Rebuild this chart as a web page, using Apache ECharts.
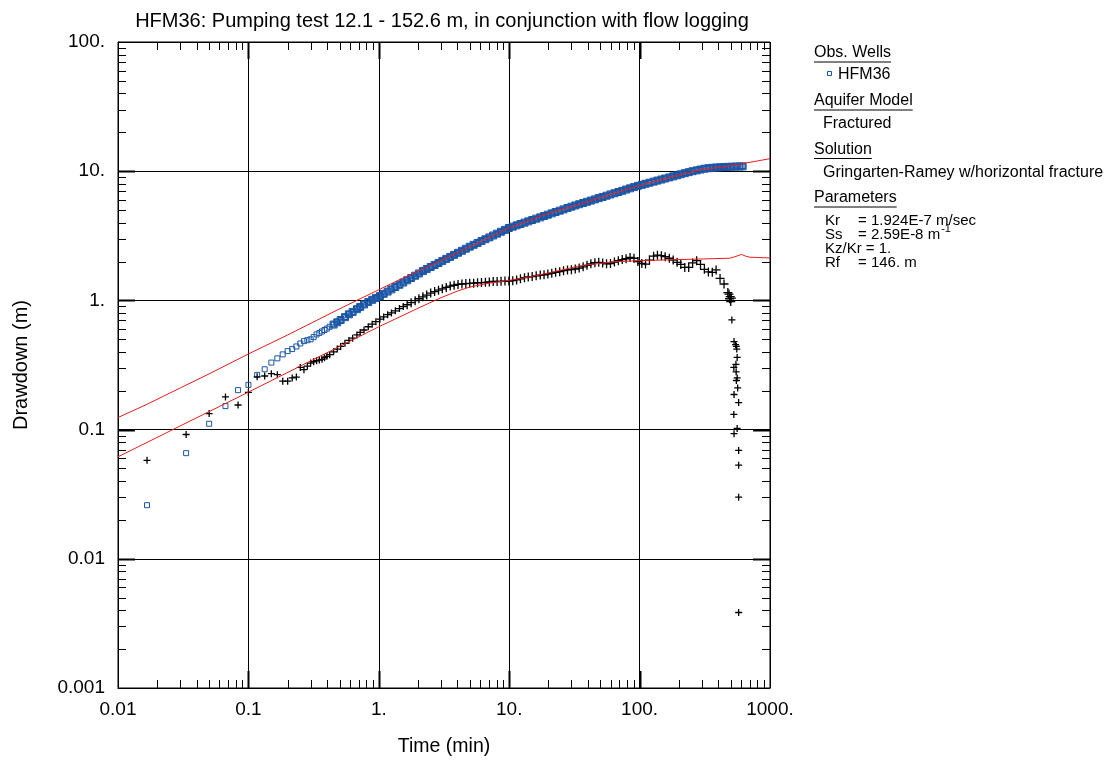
<!DOCTYPE html>
<html>
<head>
<meta charset="utf-8">
<script src="https://cdn.jsdelivr.net/npm/echarts@6/dist/echarts.min.js"></script>
<style>
html,body{margin:0;padding:0;background:#fff;}
#chart{width:1105px;height:762px;}
</style>
</head>
<body>
<div id="chart"></div>
<script>
// ---------- data ----------
const titleText = 'HFM36: Pumping test 12.1 - 152.6 m, in conjunction with flow logging';
const xTickLabels = ['0.01', '0.1', '1.', '10.', '100.', '1000.'];
const yTickLabels = ['0.001', '0.01', '0.1', '1.', '10.', '100.'];
const xDecades = [0.01, 0.1, 1, 10, 100];
const yDecades = [0.001, 0.01, 0.1, 1, 10];
const minorMultipliers = [2, 3, 4, 5, 6, 7, 8, 9];

// elapsed time (min)
const times = [
  0.0167, 0.0333, 0.05, 0.0667, 0.0833, 0.1, 0.1167, 0.1333, 0.15, 0.1667, 0.1833, 0.2,
  0.2167, 0.2333, 0.25, 0.2667, 0.2833, 0.3, 0.3167, 0.3333, 0.35, 0.3667, 0.3833, 0.4,
  0.42, 0.45, 0.48, 0.51, 0.55, 0.59, 0.63, 0.68, 0.72, 0.77, 0.83, 0.89, 0.95,
  1.02, 1.09, 1.17, 1.25, 1.34, 1.44, 1.54, 1.65, 1.77, 1.9, 2.03,
  2.18, 2.33, 2.5, 2.68, 2.87, 3.07, 3.29, 3.53, 3.78, 4.05, 4.34, 4.65, 4.98,
  5.34, 5.72, 6.13, 6.57, 7.04, 7.54, 8.08, 8.66, 9.28, 9.94,
  10.65, 11.4, 12.2, 13.1, 14.0, 15.0, 16.1, 17.3, 18.5, 19.8, 21.2, 22.7, 24.4, 26.1, 28.0, 30.0,
  32.1, 34.4, 36.9, 39.5, 42.3, 45.4, 48.6, 52.1, 55.8, 59.8, 64.1, 68.7, 73.6, 78.8, 84.5, 90.5, 97.0,
  104, 111, 119, 128, 137, 147, 157, 169, 181, 194, 207, 222, 238, 255, 274, 293, 314,
  337, 361, 386, 414, 444, 475, 509, 545, 585, 617
];
// HFM36 drawdown (m)
const drawdown = [
  0.026, 0.0657, 0.111, 0.152, 0.202, 0.222, 0.265, 0.293, 0.330, 0.356, 0.382, 0.405,
  0.42, 0.44, 0.464, 0.484, 0.492, 0.50, 0.52, 0.545, 0.56, 0.575, 0.59, 0.605,
  0.625, 0.65, 0.677, 0.705, 0.742, 0.78, 0.815, 0.855, 0.89, 0.93, 0.97, 1.01, 1.045,
  1.08, 1.124, 1.170, 1.218, 1.269, 1.321, 1.375, 1.432, 1.491, 1.552, 1.616,
  1.687, 1.748, 1.814, 1.880, 1.949, 2.021, 2.095, 2.172, 2.252, 2.335, 2.421, 2.510, 2.603,
  2.691, 2.783, 2.877, 2.974, 3.074, 3.179, 3.287, 3.399, 3.514, 3.634,
  3.721, 3.811, 3.903, 3.996, 4.091, 4.190, 4.290, 4.393, 4.498, 4.606, 4.716, 4.831, 4.946, 5.064, 5.187, 5.311,
  5.43, 5.55, 5.67, 5.80, 5.92, 6.05, 6.19, 6.32, 6.46, 6.61, 6.75, 6.90, 7.05, 7.21, 7.37, 7.53, 7.70,
  7.84, 7.99, 8.14, 8.30, 8.46, 8.62, 8.78, 8.95, 9.12, 9.29, 9.47, 9.65, 9.83, 10.0, 10.15, 10.3, 10.45,
  10.55, 10.62, 10.68, 10.73, 10.77, 10.8, 10.83, 10.86, 10.88, 10.9
];
// derivative data (black crosses), same times
const derivative = [
  0.0578, 0.0916, 0.133, 0.179, 0.155, 0.194, 0.256, 0.26, 0.271, 0.266, 0.237, 0.237,
  0.251, 0.255, 0.303, 0.291, 0.31, 0.327, 0.335, 0.341, 0.345, 0.35, 0.36, 0.369,
  0.38, 0.40, 0.42, 0.44, 0.465, 0.49, 0.51, 0.54, 0.565, 0.59, 0.625, 0.655, 0.685,
  0.715, 0.745, 0.775, 0.80, 0.83, 0.865, 0.895, 0.925, 0.96, 0.995, 1.03,
  1.065, 1.10, 1.14, 1.17, 1.20, 1.23, 1.26, 1.29, 1.31, 1.33, 1.34, 1.35, 1.355,
  1.36, 1.37, 1.375, 1.38, 1.39, 1.40, 1.40, 1.405, 1.41, 1.41,
  1.42, 1.44, 1.47, 1.50, 1.52, 1.53, 1.55, 1.57, 1.58, 1.60, 1.62, 1.65, 1.67, 1.70, 1.72, 1.73,
  1.75, 1.78, 1.82, 1.87, 1.92, 1.96, 1.97, 1.95, 1.92, 1.93, 1.98, 2.03, 2.07, 2.10, 2.15, 2.12, 2.0,
  1.93, 1.91, 2.05, 2.2, 2.24, 2.22, 2.18, 2.12, 2.05, 1.97, 1.9, 1.8, 1.8, 1.95, 2.03, 1.9, 1.74,
  1.66, 1.65, 1.72, 1.48, 1.34, 1.15, null, null, null, null
];
// late derivative points (time, value)
const derivTailTimes = [485, 490, 495, 500, 505, 510, 530, 545, 552, 556, 560, 548, 528, 550, 560, 552, 565, 530, 575, 528, 560, 530, 575, 575, 575, 575];
const derivTailValues = [1.12, 1.03, 1.07, 0.98, 1.04, 0.706, 0.48, 0.455, 0.44, 0.42, 0.362, 0.32, 0.303, 0.28, 0.251, 0.24, 0.21, 0.187, 0.162, 0.131, 0.102, 0.093, 0.069, 0.053, 0.030, 0.00384];

// type curve (Gringarten-Ramey) and its derivative
const modelTimes = [0.01, 0.0167, 0.03, 0.05, 0.1, 0.2, 0.5, 1, 1.6, 2, 3, 5, 10, 20, 30, 50, 100, 200, 300, 500, 617, 1000];
const modelValues = [0.124, 0.157, 0.21, 0.27, 0.385, 0.54, 0.86, 1.21, 1.52, 1.68, 2.04, 2.60, 3.64, 4.72, 5.31, 6.25, 7.76, 9.35, 10.3, 11.0, 11.45, 12.5];
const modelDerivTimes = [0.01, 0.1, 1, 2, 3, 4, 5, 7, 10, 14.4, 20, 34.7, 62.8, 100, 200, 490, 540, 605, 650, 700, 1000];
const modelDerivValues = [0.0616, 0.195, 0.625, 0.87, 1.05, 1.18, 1.27, 1.36, 1.43, 1.52, 1.63, 1.85, 1.99, 2.03, 2.07, 2.12, 2.18, 2.27, 2.2, 2.16, 2.13];

// ---------- chart ----------
const FONT = 'Liberation Sans, Arial, sans-serif';
const BLUE = '#1a56a5';
const zip = (a, b) => a.map((v, i) => [v, b[i]]).filter(p => p[1] != null);

const xMinor = [], yMinor = [];
xDecades.forEach(d => minorMultipliers.forEach(m => xMinor.push(m * d)));
yDecades.forEach(d => minorMultipliers.forEach(m => yMinor.push(m * d)));
const xMajor = xDecades.slice(1);
const yMajor = yDecades.slice(1);

function tickSeries(axis, values, len, width) {
  return {
    type: 'custom', silent: true, z: 6, clip: false, animation: false,
    data: values.map(v => axis === 'x' ? [v, 1] : [1, v]),
    renderItem: function (params, api) {
      const cs = params.coordSys;
      const p = api.coord([api.value(0), api.value(1)]);
      const style = { stroke: '#000', lineWidth: width };
      if (axis === 'x') {
        const x = Math.round(p[0]) + 0.5;
        return { type: 'group', children: [
          { type: 'line', shape: { x1: x, y1: cs.y + cs.height, x2: x, y2: cs.y + cs.height - len }, style: style },
          { type: 'line', shape: { x1: x, y1: cs.y, x2: x, y2: cs.y + len }, style: style }
        ]};
      } else {
        const y = Math.round(p[1]) + 0.5;
        return { type: 'group', children: [
          { type: 'line', shape: { x1: cs.x, y1: y, x2: cs.x + len, y2: y }, style: style },
          { type: 'line', shape: { x1: cs.x + cs.width, y1: y, x2: cs.x + cs.width - len, y2: y }, style: style }
        ]};
      }
    }
  };
}

function labelFor(list, base) {
  return function (v) {
    const i = Math.round(Math.log10(v) - Math.log10(base));
    return list[i] !== undefined ? list[i] : '';
  };
}

// legend panel with underlined headings
const measureCanvas = document.createElement('canvas').getContext('2d');
function textWidth(str, size) {
  measureCanvas.font = size + 'px ' + FONT;
  return measureCanvas.measureText(str).width;
}
const HEAD = 16, PAR = 15;
const LX = 814;
const graphics = [];
function heading(str, c) {
  graphics.push({ type: 'text', left: LX, top: c - 7, silent: true,
    style: { text: str, fill: '#000', font: HEAD + 'px ' + FONT } });
  graphics.push({ type: 'line', silent: true,
    shape: { x1: LX, y1: c + 10, x2: LX + textWidth(str, HEAD), y2: c + 10 },
    style: { stroke: '#000', lineWidth: 1 } });
}
function plain(str, x, c, size) {
  graphics.push({ type: 'text', left: x, top: c - size * 0.44, silent: true,
    style: { text: str, fill: '#000', font: size + 'px ' + FONT } });
}
heading('Obs. Wells', 52);
graphics.push({ type: 'rect', silent: true, shape: { x: 827.5, y: 71.5, width: 4, height: 4 },
  style: { fill: 'none', stroke: BLUE, lineWidth: 1 } });
plain('HFM36', 838, 74, HEAD);
heading('Aquifer Model', 100);
plain('Fractured', 823, 123, HEAD);
heading('Solution', 148.5);
plain('Gringarten-Ramey w/horizontal fracture', 823, 171.5, HEAD);
heading('Parameters', 197);
plain('Kr', 825, 219.5, PAR);
plain('= 1.924E-7 m/sec', 858, 219.5, PAR);
plain('Ss', 825, 233.5, PAR);
plain('= 2.59E-8 m', 858, 233.5, PAR);
plain('-1', 858 + textWidth('= 2.59E-8 m', PAR) + 1, 228, 11);
plain('Kz/Kr = 1.', 825, 247.5, PAR);
plain('Rf', 825, 261.5, PAR);
plain('= 146. m', 858, 261.5, PAR);

const chart = echarts.init(document.getElementById('chart'), null, { renderer: 'canvas' });
chart.setOption({
  animation: false,
  backgroundColor: '#fff',
  title: {
    text: titleText, left: 437, top: 6, textAlign: 'center',
    textStyle: { fontFamily: FONT, fontSize: 20, fontWeight: 'normal', color: '#000' }
  },
  grid: { left: 118, top: 42, width: 652, height: 650, show: true, borderColor: '#000', borderWidth: 1, backgroundColor: 'transparent' },
  xAxis: {
    type: 'log', logBase: 10, min: 0.01, max: 1000, splitNumber: 5,
    name: 'Time (min)', nameLocation: 'middle', nameGap: 49,
    nameTextStyle: { fontFamily: FONT, fontSize: 19.5, color: '#000' },
    axisLine: { show: true, lineStyle: { color: '#000', width: 1 } },
    axisTick: { show: false },
    axisLabel: { formatter: labelFor(xTickLabels, 0.01), fontFamily: FONT, fontSize: 19, color: '#000', margin: 12 },
    splitLine: { show: true, lineStyle: { color: '#000', width: 1 } }
  },
  yAxis: {
    type: 'log', logBase: 10, min: 0.001, max: 100, splitNumber: 5,
    name: 'Drawdown (m)', nameLocation: 'middle', nameGap: 87,
    nameTextStyle: { fontFamily: FONT, fontSize: 20, color: '#000' },
    axisLine: { show: true, lineStyle: { color: '#000', width: 1 } },
    axisTick: { show: false },
    axisLabel: { formatter: labelFor(yTickLabels, 0.001), fontFamily: FONT, fontSize: 19, color: '#000', margin: 13 },
    splitLine: { show: true, lineStyle: { color: '#000', width: 1 } }
  },
  graphic: graphics,
  series: [
    {
      name: 'HFM36', type: 'scatter', z: 2,
      data: zip(times, drawdown),
      symbol: 'rect',
      symbolSize: v => v[0] > 0.42 ? 7 : 5,
      itemStyle: { color: 'rgba(0,0,0,0)', borderColor: BLUE, borderWidth: 1, opacity: 1 },
      emphasis: { disabled: true }
    },
    {
      name: 'HFM36 dense', type: 'scatter', z: 2,
      data: zip(times, drawdown).filter(p => p[0] > 0.42),
      symbol: 'rect', symbolSize: 5,
      itemStyle: { color: 'rgba(0,0,0,0)', borderColor: BLUE, borderWidth: 1.5, opacity: 1 },
      emphasis: { disabled: true }
    },
    {
      name: 'Derivative', type: 'scatter', z: 2,
      data: zip(times, derivative).concat(zip(derivTailTimes, derivTailValues)),
      symbol: 'path://M5,0L5,10M0,5L10,5',
      symbolSize: v => (v[0] > 0.42 && v[1] > 0.9) ? 9 : 7,
      itemStyle: { color: 'rgba(0,0,0,0)', borderColor: '#000', borderWidth: 1.3, opacity: 1 },
      emphasis: { disabled: true }
    },
    {
      name: 'Type curve', type: 'line', z: 4, showSymbol: false, symbol: 'none',
      data: zip(modelTimes, modelValues),
      lineStyle: { color: '#ee1c1c', width: 1 }
    },
    {
      name: 'Type curve derivative', type: 'line', z: 4, showSymbol: false, symbol: 'none',
      data: zip(modelDerivTimes, modelDerivValues),
      lineStyle: { color: '#ee1c1c', width: 1 }
    },
    tickSeries('x', xMinor, 8, 1),
    tickSeries('y', yMinor, 8, 1),
    tickSeries('x', xMajor, 17, 2),
    tickSeries('y', yMajor, 17, 2)
  ]
});
</script>
</body>
</html>
